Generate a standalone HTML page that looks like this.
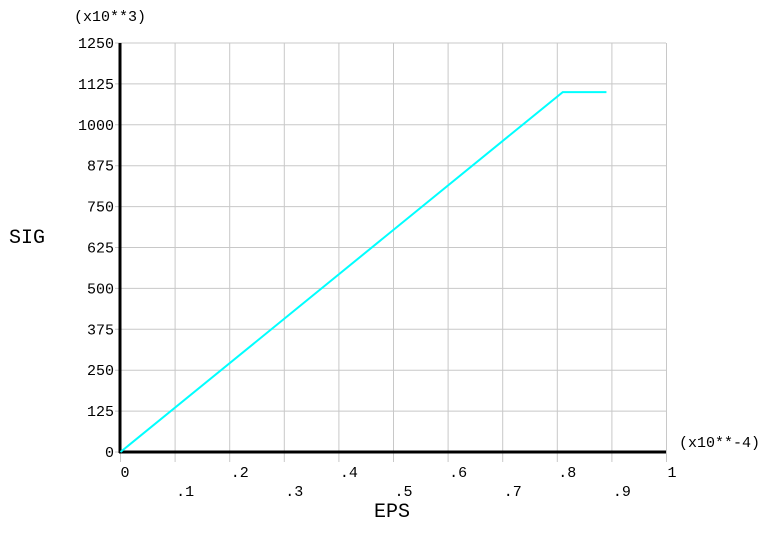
<!DOCTYPE html>
<html><head><meta charset="utf-8"><style>
body{margin:0;background:#fff}
svg text{font-family:"Liberation Mono",monospace;font-size:15px;fill:#000}
</style></head><body>
<svg width="778" height="531" id="c">
<g id="grid"></g>
<g id="labels"></g>
<line x1="120" y1="43" x2="120" y2="453" stroke="#000" stroke-width="3"/>
<line x1="119" y1="452" x2="666" y2="452" stroke="#000" stroke-width="3"/>
<polyline id="series" fill="none" stroke="#00ffff" stroke-width="2"/>
<text x="74" y="21">(x10**3)</text>
<text x="679" y="447">(x10**-4)</text>
<text x="9" y="243" style="font-size:20px">SIG</text>
<text x="374" y="517" style="font-size:20px">EPS</text>
</svg>
<script>
const xTicks=[0,0.1,0.2,0.3,0.4,0.5,0.6,0.7,0.8,0.9,1];
const xTickLabels=["0",".1",".2",".3",".4",".5",".6",".7",".8",".9","1"];
const yTicks=[0,125,250,375,500,625,750,875,1000,1125,1250];
const epsValues=[0,0.81,0.89];
const sigValues=[0,1100,1100];
const X=v=>120.5+v*546;
const Y=v=>452-v*409/1250;
const NS="http://www.w3.org/2000/svg";
const g=document.getElementById('grid'),lb=document.getElementById('labels');
xTicks.forEach((t,i)=>{
  const l=document.createElementNS(NS,'line');
  
  
  l.setAttribute('x1',X(t));l.setAttribute('x2',X(t));l.setAttribute('y1',43);l.setAttribute('y2',462);
  l.setAttribute('stroke','#c8c8c8');g.appendChild(l);
  const tx=document.createElementNS(NS,'text');
  
  
  tx.setAttribute('x',X(t)+(i==0?0:1));tx.setAttribute('y',i%2==0?477:496);
  tx.textContent=xTickLabels[i];lb.appendChild(tx);
});
yTicks.forEach(t=>{
  const l=document.createElementNS(NS,'line');
  
  
  l.setAttribute('x1',115);l.setAttribute('x2',666);l.setAttribute('y1',Y(t));l.setAttribute('y2',Y(t));
  l.setAttribute('stroke','#c8c8c8');g.appendChild(l);
  const tx=document.createElementNS(NS,'text');
  
  
  tx.setAttribute('x',114);tx.setAttribute('y',Y(t)+5);tx.setAttribute('text-anchor','end');
  tx.textContent=String(t);lb.appendChild(tx);
});
document.getElementById('series').setAttribute('points',epsValues.map((e,i)=>X(e)+','+Y(sigValues[i])).join(' '));
</script>
</body></html>
